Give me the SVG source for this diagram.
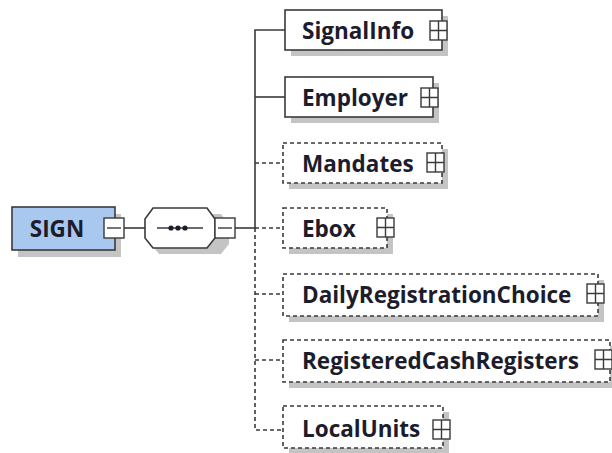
<svg xmlns="http://www.w3.org/2000/svg" width="612" height="453" viewBox="0 0 612 453">
<style>
.shadow{fill:#c4c4c4;stroke:none}
.box{fill:#ffffff;stroke:#3a3a3a;stroke-width:1.6}
.opt{fill:#ffffff;stroke:#3a3a3a;stroke-width:1.6;stroke-dasharray:4 3}
.root{fill:#a9c8ef;stroke:#3a3a3a;stroke-width:1.6}
.lbl{font-family:"Open Sans","Liberation Sans",sans-serif;font-weight:bold;font-size:22.5px;fill:#1c1c2c;dominant-baseline:central}
.icon{fill:#ffffff;stroke:#3a3a3a;stroke-width:1.4}
.sym{stroke:#3a3a3a;stroke-width:1.4;fill:none}
.line{stroke:#3a3a3a;stroke-width:1.6;fill:none}
.dline{stroke:#3a3a3a;stroke-width:1.6;fill:none;stroke-dasharray:4 3}
</style>
<defs>
<g id="plus"><rect class="icon" x="0" y="0" width="17" height="19"/><path class="sym" d="M0 9.5H17M8.5 0V19"/></g>
<g id="minus"><rect class="icon" x="0" y="0" width="20" height="20"/><path class="sym" d="M3 10H17"/></g>
</defs>
<g id="connectors">
<line class="line" x1="124" y1="228" x2="145" y2="228"/>
<line class="line" x1="235" y1="228" x2="255" y2="228"/>
<path class="line" d="M285 30H255V228"/>
<line class="line" x1="255" y1="97" x2="285" y2="97"/>
<line class="dline" x1="255" y1="163" x2="283" y2="163"/>
<line class="dline" x1="255" y1="228" x2="283" y2="228"/>
<path class="dline" d="M255 228V430H283"/>
<line class="dline" x1="255" y1="294" x2="283" y2="294"/>
<line class="dline" x1="255" y1="360" x2="283" y2="360"/>
</g>
<g id="SIGN">
<rect class="shadow" x="18" y="214" width="103" height="43"/>
<rect class="root" x="12" y="207" width="103" height="43"/>
<text class="lbl" x="57" y="228" text-anchor="middle">SIGN</text>
<use href="#minus" x="104" y="218"/>
</g>
<g id="sequence">
<path class="shadow" d="M159 214H221L229 225V244L221 254H159L151 244V225Z"/>
<path d="M153 208H207L215 219V238L207 248H153L145 238V219Z" fill="#ffffff" stroke="#3a3a3a" stroke-width="1.6"/>
<line class="sym" x1="157" y1="228" x2="203" y2="228"/>
<circle cx="171" cy="228" r="2.6" fill="#1c1c2c"/>
<circle cx="178" cy="228" r="2.6" fill="#1c1c2c"/>
<circle cx="185" cy="228" r="2.6" fill="#1c1c2c"/>
<use href="#minus" x="215" y="218"/>
</g>
<g id="SignalInfo">
<rect class="shadow" x="291" y="16" width="157" height="40"/>
<rect class="box" x="285" y="10" width="157" height="40"/>
<text class="lbl" x="302" y="30">SignalInfo</text>
<use href="#plus" x="430" y="21"/>
</g>
<g id="Employer">
<rect class="shadow" x="291" y="83" width="148" height="40"/>
<rect class="box" x="285" y="77" width="148" height="40"/>
<text class="lbl" x="302" y="97">Employer</text>
<use href="#plus" x="421" y="88"/>
</g>
<g id="Mandates">
<rect class="shadow" x="289" y="149" width="159" height="40"/>
<rect class="opt" x="283" y="143" width="159" height="40"/>
<text class="lbl" x="302" y="163">Mandates</text>
<use href="#plus" x="427" y="153"/>
</g>
<g id="Ebox">
<rect class="shadow" x="289" y="214" width="104" height="40"/>
<rect class="opt" x="283" y="208" width="104" height="40"/>
<text class="lbl" x="302" y="228">Ebox</text>
<use href="#plus" x="377" y="218"/>
</g>
<g id="DailyRegistrationChoice">
<rect class="shadow" x="289" y="280" width="315" height="42"/>
<rect class="opt" x="283" y="274" width="315" height="42"/>
<text class="lbl" x="302" y="294">DailyRegistrationChoice</text>
<use href="#plus" x="587" y="284"/>
</g>
<g id="RegisteredCashRegisters">
<rect class="shadow" x="289" y="346" width="327" height="42"/>
<rect class="opt" x="283" y="340" width="327" height="42"/>
<text class="lbl" x="302" y="360">RegisteredCashRegisters</text>
<use href="#plus" x="595" y="350"/>
</g>
<g id="LocalUnits">
<rect class="shadow" x="289" y="412" width="160" height="42"/>
<rect class="opt" x="283" y="406" width="160" height="42"/>
<text class="lbl" x="302" y="428">LocalUnits</text>
<use href="#plus" x="433" y="420"/>
</g>
</svg>
